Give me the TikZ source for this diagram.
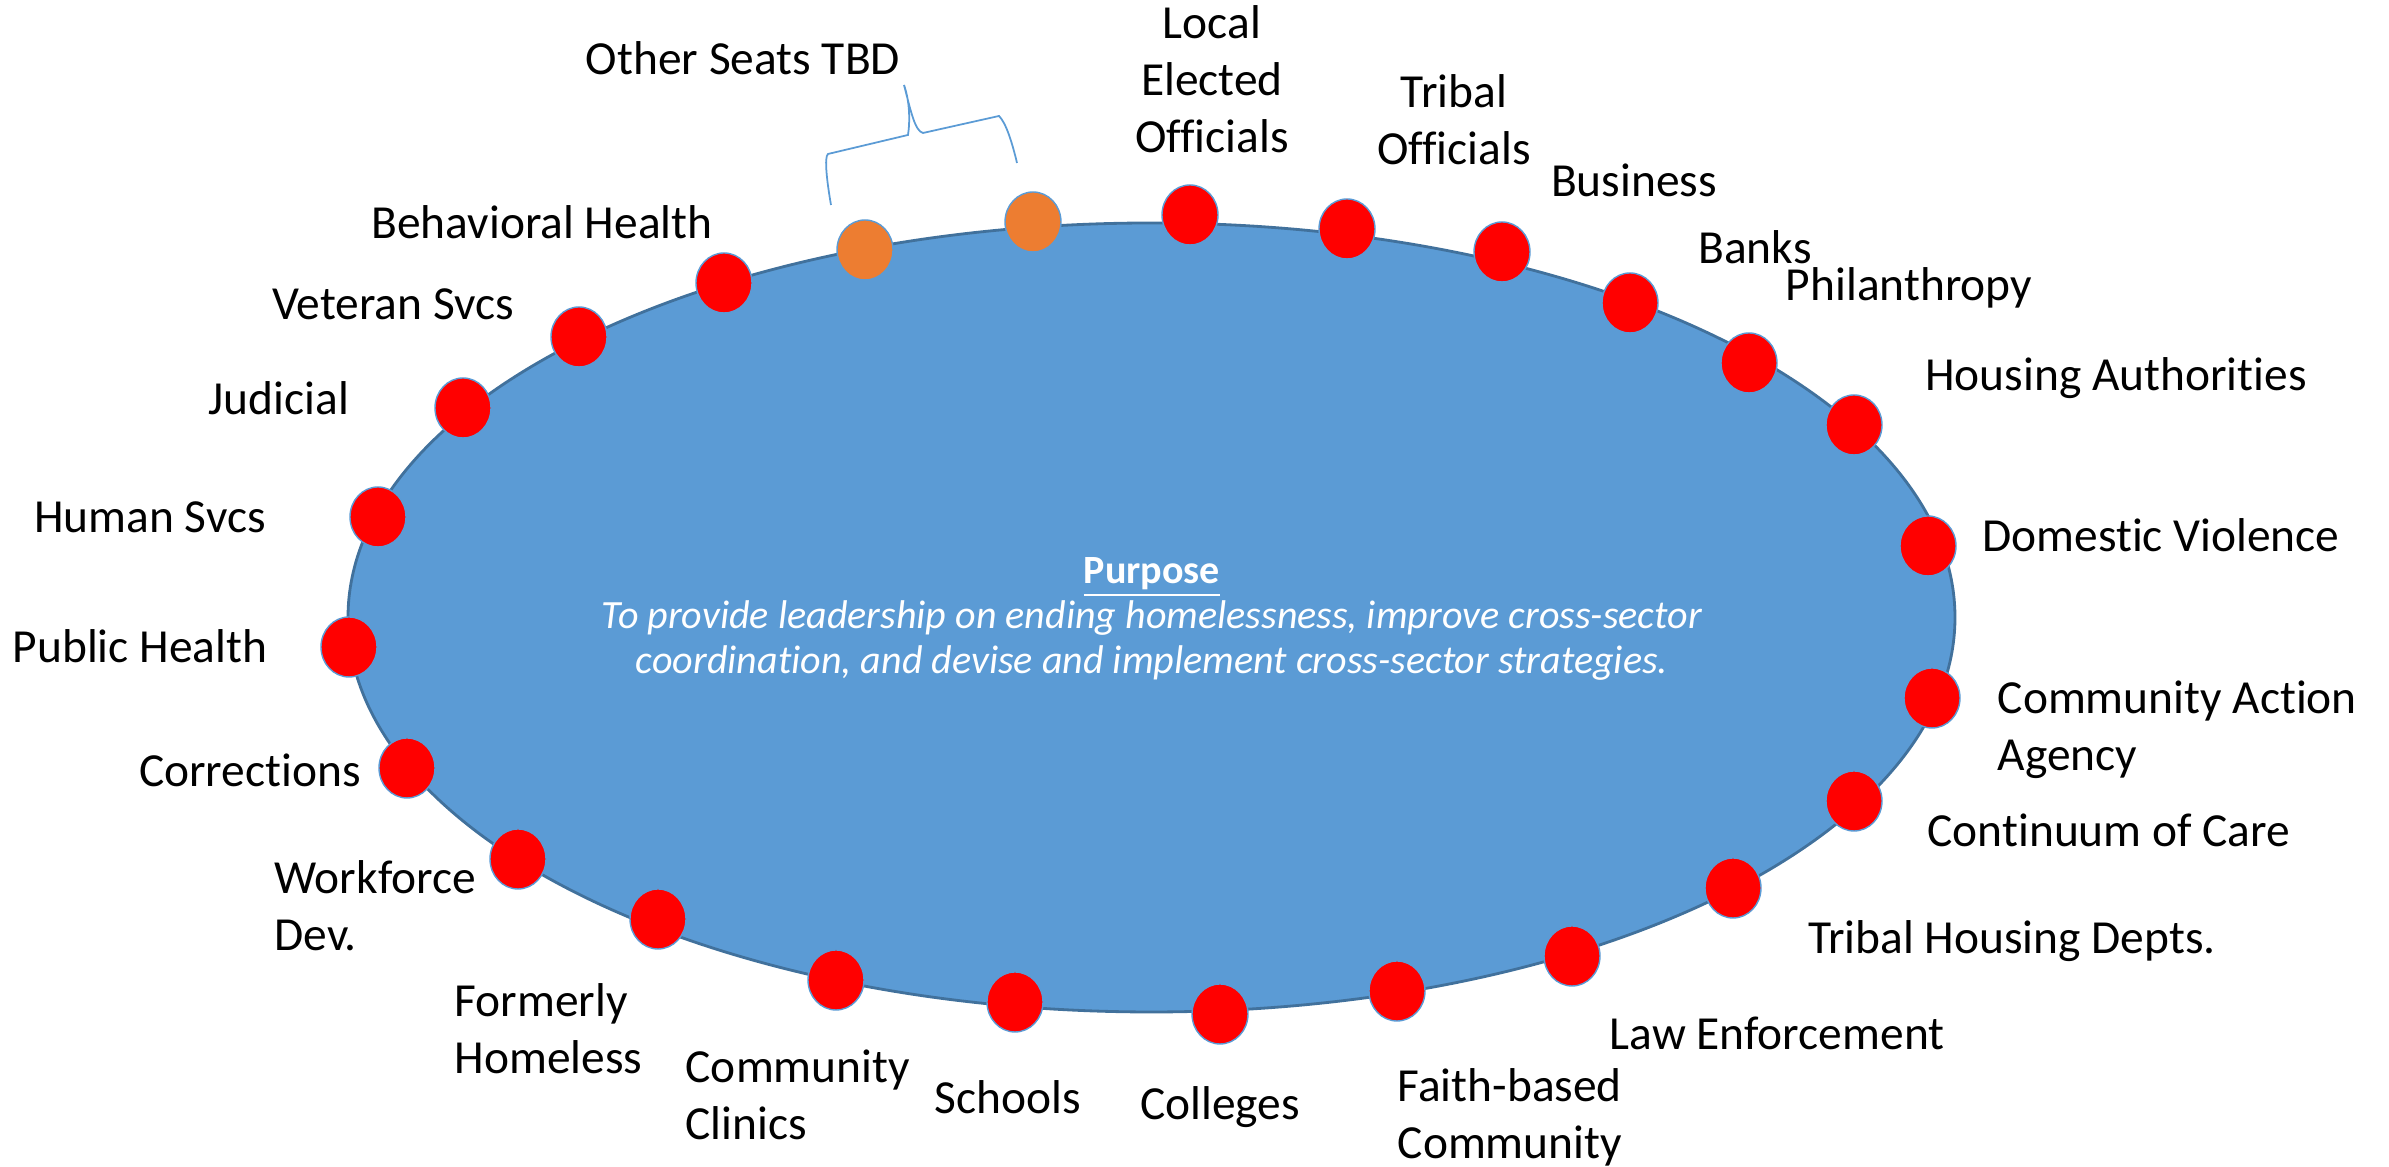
\documentclass[tikz,border=0pt]{standalone}
\usepackage{fontspec}
\setmainfont{Carlito}[Ligatures=NoCommon]
\usepackage{tikz}
\usetikzlibrary{shapes.geometric}
\definecolor{tableblue}{HTML}{5B9BD5}
\definecolor{tableedge}{HTML}{41719C}
\definecolor{seatorange}{HTML}{ED7D31}
\tikzset{
    member/.style={
        draw=tableblue,
        ellipse,
        fill=red,
        minimum width=0.56cm,
        minimum height=0.6cm,
        inner sep=0pt,
        line width=0.4pt
    },
    openseat/.style={
        member,
        fill=seatorange
    },
    sector/.style={
        inner sep=0pt,
        font=\fontsize{13.5}{16.2}\selectfont
    }
}

\begin{document}
\begin{tikzpicture}
    \useasboundingbox (0,0) rectangle (23.89,11.67);

    % Table and purpose
    \node[ellipse, draw=tableedge, line width=0.8pt, fill=tableblue, minimum width=16.07cm, minimum height=7.89cm] (table) at (11.515,5.495) {};
    \node[align=center, text=white, inner sep=0pt, font=\fontsize{11.4}{12.7}\selectfont] (purpose) at (11.52,5.48)
        {\underline{\textbf{Purpose}}\\
         \textit{To provide leadership on ending homelessness, improve cross-sector}\\
         \textit{coordination, and devise and implement cross-sector strategies.}};

    % Seats
    \node[member] (behavioral) at (7.24,8.84) {};
    \node[openseat] (tbdA) at (8.65,9.17) {};
    \node[openseat] (tbdB) at (10.33,9.45) {};
    \node[member] (local) at (11.90,9.52) {};
    \node[member] (tribal) at (13.47,9.38) {};
    \node[member] (business) at (15.02,9.15) {};
    \node[member] (banks) at (16.30,8.64) {};
    \node[member] (philanthropy) at (17.49,8.04) {};
    \node[member] (housing) at (18.54,7.42) {};
    \node[member] (dv) at (19.28,6.21) {};
    \node[member] (caa) at (19.32,4.69) {};
    \node[member] (coc) at (18.54,3.66) {};
    \node[member] (tribalhousing) at (17.33,2.79) {};
    \node[member] (law) at (15.72,2.11) {};
    \node[member] (faith) at (13.97,1.76) {};
    \node[member] (colleges) at (12.20,1.53) {};
    \node[member] (schools) at (10.15,1.65) {};
    \node[member] (clinics) at (8.36,1.87) {};
    \node[member] (formerly) at (6.58,2.48) {};
    \node[member] (workforce) at (5.18,3.08) {};
    \node[member] (corrections) at (4.07,3.99) {};
    \node[member] (publichealth) at (3.49,5.20) {};
    \node[member] (humansvcs) at (3.78,6.50) {};
    \node[member] (judicial) at (4.63,7.59) {};
    \node[member] (veteran) at (5.79,8.30) {};

    % Seat labels
    \node[sector] (tbd-txt) at (7.43,11.09) {Other Seats TBD};
    \node[sector] (behavioral-txt) at (5.42,9.45) {Behavioral Health};
    \node[sector, align=center] (local-txt) at (12.12,10.88) {Local\\Elected\\Officials};
    \node[sector, align=center] (tribal-txt) at (14.54,10.47) {Tribal\\Officials};
    \node[sector] (business-txt) at (16.34,9.87) {Business};
    \node[sector] (banks-txt) at (17.55,9.20) {Banks};
    \node[sector] (philanthropy-txt) at (19.09,8.79) {Philanthropy};
    \node[sector] (housing-txt) at (21.16,7.89) {Housing Authorities};
    \node[sector] (dv-txt) at (21.61,6.32) {Domestic Violence};
    \node[sector, align=left, anchor=west] (caa-txt) at (19.97,4.37) {Community Action\\Agency};
    \node[sector] (coc-txt) at (21.09,3.37) {Continuum of Care};
    \node[sector] (tribalhousing-txt) at (20.12,2.26) {Tribal Housing Depts.};
    \node[sector] (law-txt) at (17.77,1.34) {Law Enforcement};
    \node[sector, align=left, anchor=west] (faith-txt) at (13.97,0.50) {Faith-based\\Community};
    \node[sector] (colleges-txt) at (12.20,0.60) {Colleges};
    \node[sector] (schools-txt) at (10.08,0.70) {Schools};
    \node[sector, align=left, anchor=west] (clinics-txt) at (6.85,0.72) {Community\\Clinics};
    \node[sector, align=left, anchor=west] (formerly-txt) at (4.54,1.38) {Formerly\\Homeless};
    \node[sector, align=left, anchor=west] (workforce-txt) at (2.74,2.61) {Workforce\\Dev.};
    \node[sector] (corrections-txt) at (2.50,3.97) {Corrections};
    \node[sector] (publichealth-txt) at (1.40,5.21) {Public Health};
    \node[sector] (humansvcs-txt) at (1.50,6.50) {Human Svcs};
    \node[sector] (judicial-txt) at (2.79,7.69) {Judicial};
    \node[sector] (veteran-txt) at (3.93,8.63) {Veteran Svcs};

    % Brace over the open seats
    \draw[tableblue, line width=0.5pt] (8.31,9.62) .. controls (8.27,9.85) and (8.24,10.10) .. (8.28,10.13)
        -- (9.08,10.32) .. controls (9.10,10.45) and (9.10,10.65) .. (9.04,10.82)
        .. controls (9.11,10.55) and (9.15,10.36) .. (9.23,10.34)
        -- (9.99,10.51) .. controls (10.06,10.44) and (10.12,10.25) .. (10.17,10.04);
\end{tikzpicture}
\end{document}
